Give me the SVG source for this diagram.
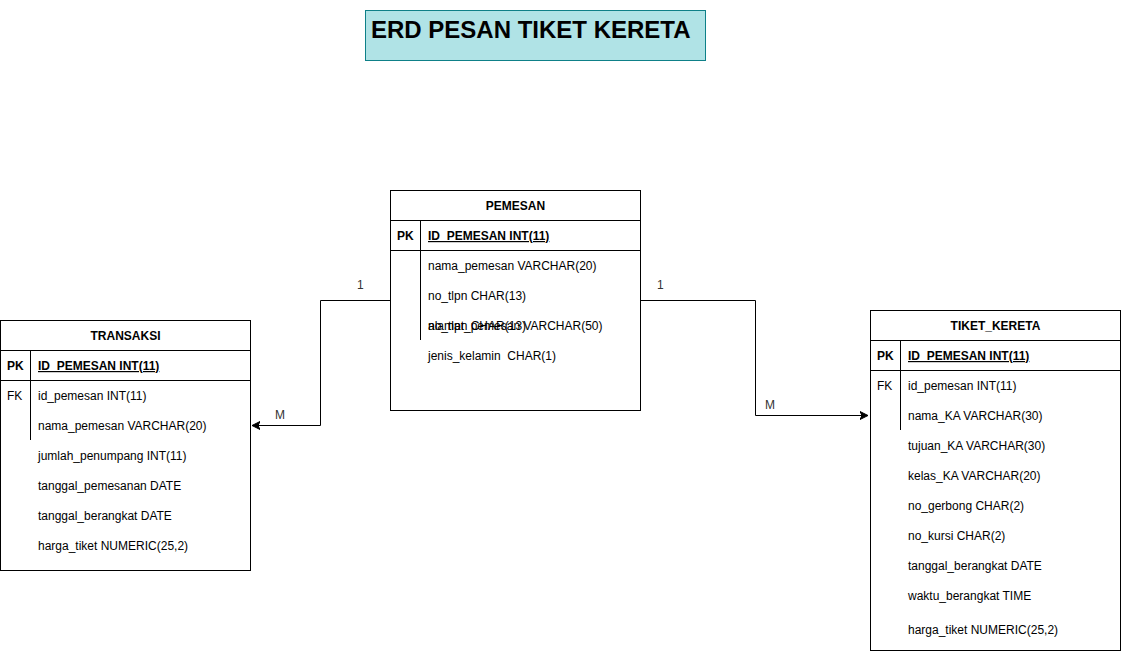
<svg xmlns="http://www.w3.org/2000/svg" width="1121" height="651" viewBox="0 0 1121 651">
<defs>
<style>
.box{fill:#fff;stroke:#000;stroke-width:1}
.ln{stroke:#000;stroke-width:1;fill:none}
.t{font-family:"Liberation Sans",Arial,sans-serif;font-size:12px;fill:#000;white-space:pre}
.h{font-family:"Liberation Sans",Arial,sans-serif;font-size:12px;font-weight:bold;fill:#000}
.pk{font-family:"Liberation Sans",Arial,sans-serif;font-size:12px;font-weight:bold;text-decoration:underline;fill:#000}
.lbl{font-family:"Liberation Sans",Arial,sans-serif;font-size:12px;fill:#333}
</style>
<marker id="arr" markerWidth="10" markerHeight="10" refX="8" refY="5" orient="auto" markerUnits="userSpaceOnUse">
<path d="M0,1 L8,5 L0,9 L2,5 Z" fill="#000" stroke="#000" stroke-width="1"/>
</marker>
</defs>
<rect width="1121" height="651" fill="#fff"/>

<g id="title">
<rect x="365.5" y="10.5" width="340" height="50" fill="#b0e3e6" stroke="#0e8088"/>
<text x="371" y="38" font-family="Liberation Sans,Arial,sans-serif" font-size="24" font-weight="bold" fill="#000">ERD PESAN TIKET KERETA</text>
</g>

<g id="connectors">
<path class="ln" d="M390.5,300.5 H320.5 V425.5 H252" marker-end="url(#arr)"/>
<path class="ln" d="M640.5,300.5 H755.5 V415.5 H868" marker-end="url(#arr)"/>
<text class="lbl" x="357" y="289">1</text>
<text class="lbl" x="275" y="419">M</text>
<text class="lbl" x="657" y="289">1</text>
<text class="lbl" x="765" y="409">M</text>
</g>

<g id="pemesan">
<rect class="box" x="390.5" y="190.5" width="250" height="220"/>
<path class="ln" d="M390.5,220.5 H640.5 M390.5,250.5 H640.5 M420.5,220.5 V340"/>
<text class="h" x="515.5" y="210" text-anchor="middle">PEMESAN</text>
<text class="h" x="397" y="240">PK</text>
<text class="pk" x="428" y="240">ID_PEMESAN INT(11)</text>
<text class="t" x="428" y="270">nama_pemesan VARCHAR(20)</text>
<text class="t" x="428" y="300">no_tlpn CHAR(13)</text>
<text class="t" x="428" y="330">alamat_pemesan VARCHAR(50)</text>
<text class="t" x="428" y="330">no_tlpn CHAR(13)</text>
<text class="t" x="428" y="360" xml:space="preserve">jenis_kelamin  CHAR(1)</text>
</g>

<g id="transaksi">
<rect class="box" x="0.5" y="320.5" width="250" height="250"/>
<path class="ln" d="M0.5,350.5 H250.5 M0.5,380.5 H250.5 M30.5,350.5 V440"/>
<text class="h" x="125.5" y="340" text-anchor="middle">TRANSAKSI</text>
<text class="h" x="7" y="370">PK</text>
<text class="pk" x="38" y="370">ID_PEMESAN INT(11)</text>
<text class="t" x="7" y="400">FK</text>
<text class="t" x="38" y="400">id_pemesan INT(11)</text>
<text class="t" x="38" y="430">nama_pemesan VARCHAR(20)</text>
<text class="t" x="38" y="460">jumlah_penumpang INT(11)</text>
<text class="t" x="38" y="490">tanggal_pemesanan DATE</text>
<text class="t" x="38" y="520">tanggal_berangkat DATE</text>
<text class="t" x="38" y="550">harga_tiket NUMERIC(25,2)</text>
</g>

<g id="tiket_kereta">
<rect class="box" x="870.5" y="310.5" width="250" height="340"/>
<path class="ln" d="M870.5,340.5 H1120.5 M870.5,370.5 H1120.5 M900.5,340.5 V430"/>
<text class="h" x="995.5" y="330" text-anchor="middle">TIKET_KERETA</text>
<text class="h" x="877" y="360">PK</text>
<text class="pk" x="908" y="360">ID_PEMESAN INT(11)</text>
<text class="t" x="877" y="390">FK</text>
<text class="t" x="908" y="390">id_pemesan INT(11)</text>
<text class="t" x="908" y="420">nama_KA VARCHAR(30)</text>
<text class="t" x="908" y="450">tujuan_KA VARCHAR(30)</text>
<text class="t" x="908" y="480">kelas_KA VARCHAR(20)</text>
<text class="t" x="908" y="510">no_gerbong CHAR(2)</text>
<text class="t" x="908" y="540">no_kursi CHAR(2)</text>
<text class="t" x="908" y="570">tanggal_berangkat DATE</text>
<text class="t" x="908" y="600">waktu_berangkat TIME</text>
<text class="t" x="908" y="634">harga_tiket NUMERIC(25,2)</text>
</g>
</svg>
